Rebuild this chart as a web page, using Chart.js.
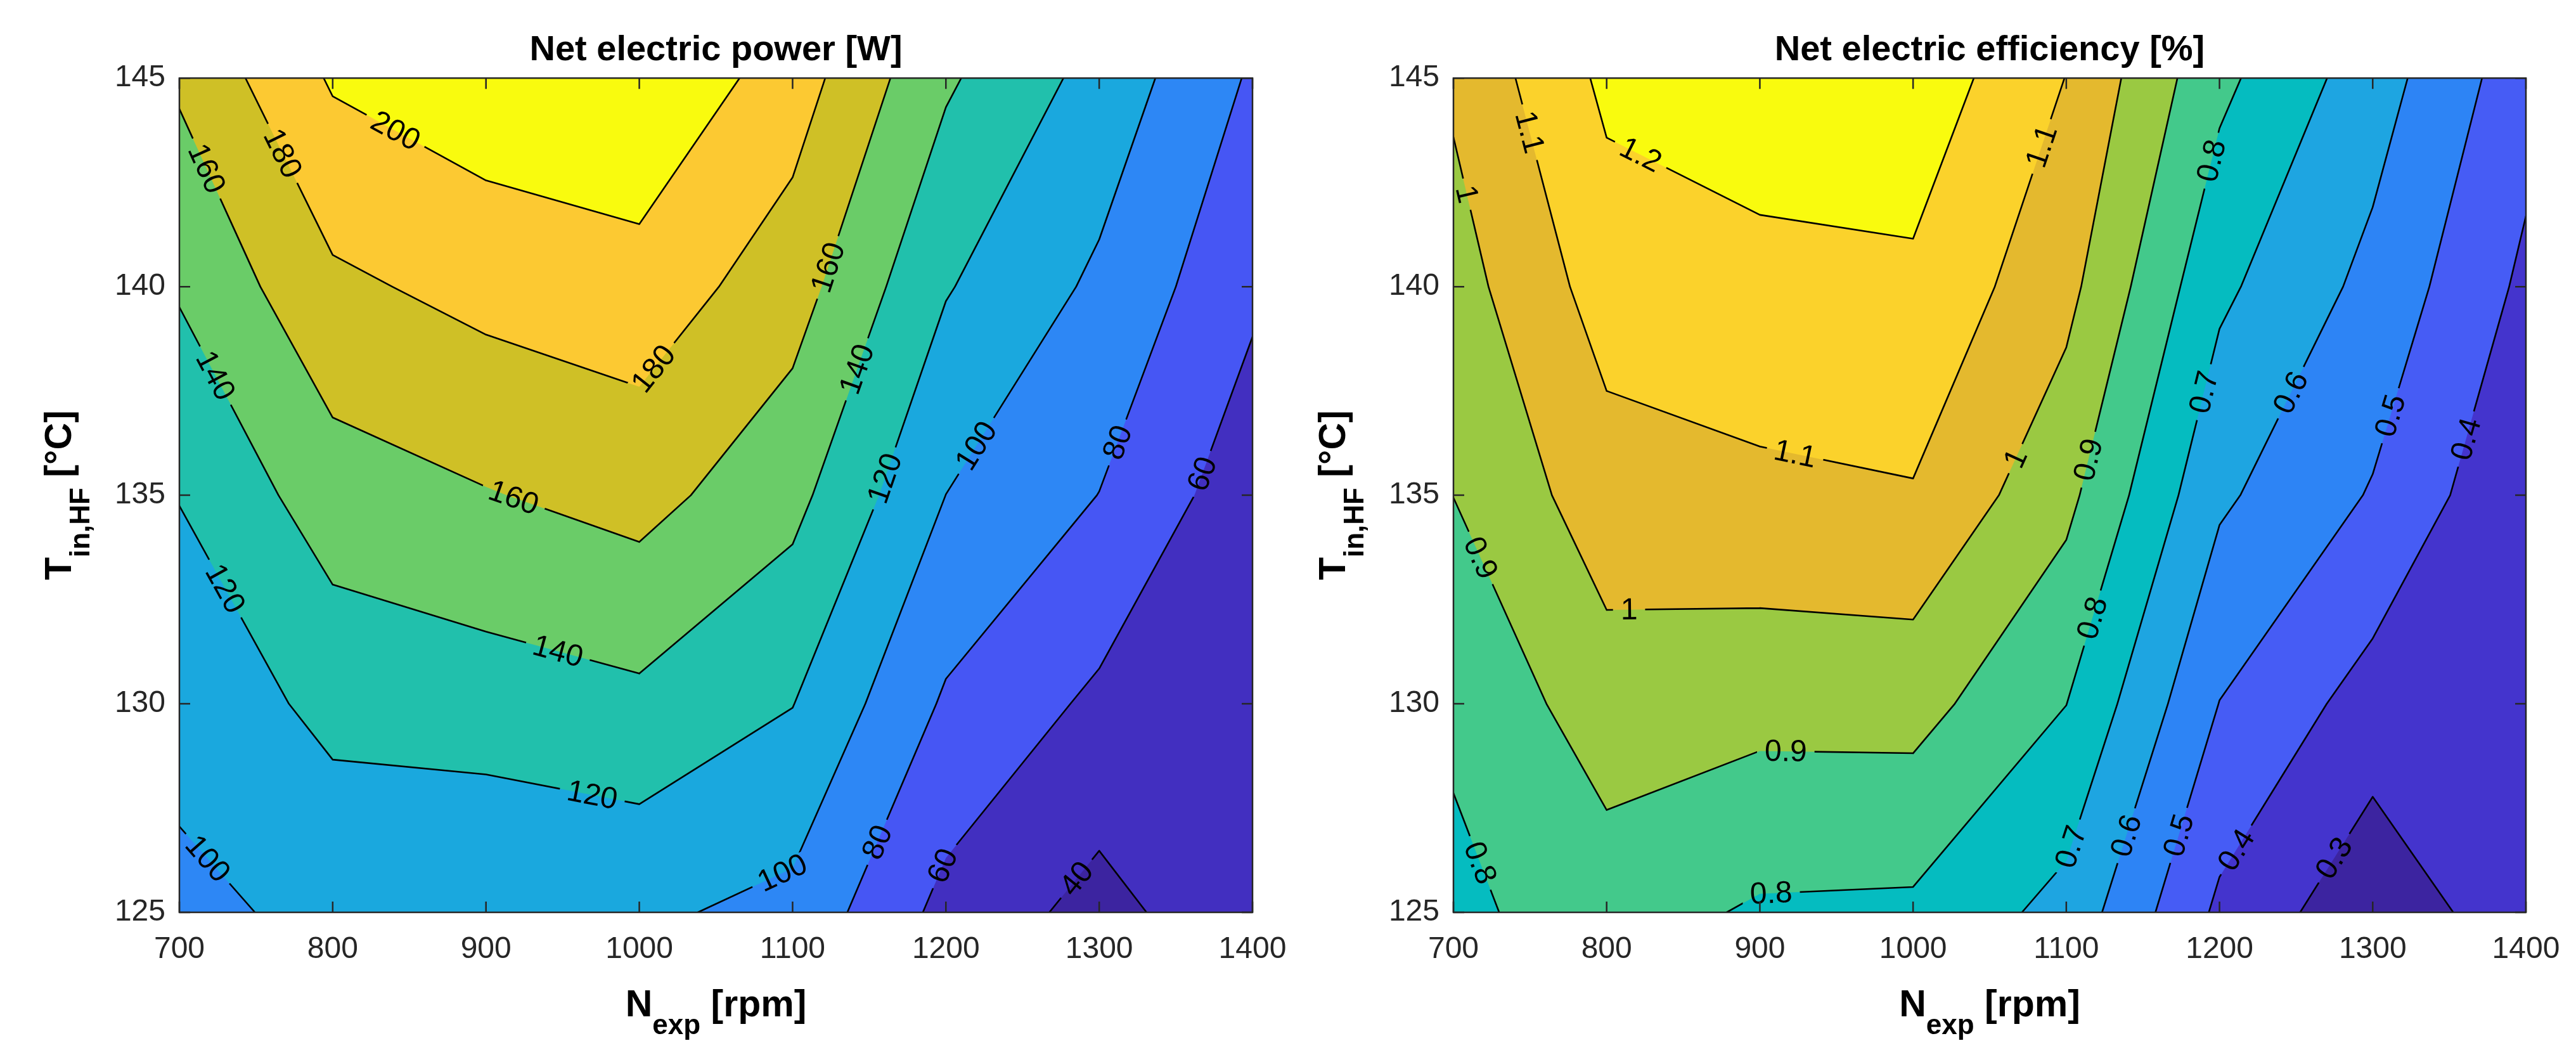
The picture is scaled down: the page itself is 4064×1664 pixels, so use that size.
<!DOCTYPE html>
<html>
<head>
<meta charset="utf-8">
<script src="https://cdn.jsdelivr.net/npm/chart.js@4.4.1/dist/chart.umd.min.js"></script>
<style>
	html, body { margin: 0; padding: 0; background: #fff; overflow: hidden; }
	#wrap { position: relative; width: 4064px; height: 1664px; }
	.pane { position: absolute; top: 0; width: 2032px; height: 1664px; }
</style>
</head>
<body>
<div id="wrap">
	<div class="pane" style="left:0"><canvas id="powerChart" width="2032" height="1664"></canvas></div>
	<div class="pane" style="left:2032px"><canvas id="effChart" width="2032" height="1664"></canvas></div>
</div>
<script>
const rpm = [700, 800, 900, 1000, 1100, 1200, 1300, 1400];
const tempIn = [125, 130, 135, 140, 145];

// net electric power [W], one row per T_in,HF
const power125 = [96.5, 103.6, 100.5, 103.4, 94.5, 53.9, 33.3, 55.0];
const power130 = [105.0, 126.0, 130.0, 135.4, 120.5, 77.3, 56.0, 50.0];
const power135 = [120.8, 150.5, 158.9, 167.1, 146.0, 99.9, 79.7, 48.0];
const power140 = [142.1, 176.0, 186.3, 191.9, 169.0, 121.5, 96.2, 63.8];
const power145 = [163.1, 202.3, 213.2, 218.9, 190.0, 143.0, 113.0, 77.5];

// net electric efficiency [%]
const eff125 = [0.780, 0.847, 0.787, 0.781, 0.667, 0.380, 0.228, 0.365];
const eff130 = [0.815, 0.955, 0.933, 0.937, 0.801, 0.498, 0.358, 0.330];
const eff135 = [0.901, 1.055, 1.079, 1.093, 0.927, 0.617, 0.492, 0.310];
const eff140 = [0.957, 1.145, 1.169, 1.180, 1.030, 0.721, 0.571, 0.379];
const eff145 = [1.017, 1.222, 1.259, 1.267, 1.098, 0.825, 0.647, 0.441];

const powerLevels = [40, 60, 80, 100, 120, 140, 160, 180, 200];
const effLevels = [0.3, 0.4, 0.5, 0.6, 0.7, 0.8, 0.9, 1, 1.1, 1.2];

const powerColors = ['#3c24a0', '#422fc0', '#4656f4', '#2d87f5', '#1aa8de', '#21c0ac', '#6acc68', '#cfc026', '#fcc932', '#f9fb0e'];
const effColors = ['#3c24a0', '#4434cd', '#465cf5', '#2d84f5', '#1ea5e1', '#05bcc0', '#43c98b', '#9ac942', '#e4b92e', '#fbd22b', '#f9fb0e'];

// where the contour labels sit: [rpm, T, level]
const powerLabels = [
	[840.9, 143.73, 200], [765.9, 143.17, 180], [717, 142.82, 160], [722, 137.84, 140],
	[1010.3, 138.0, 180], [916.3, 134.76, 160], [728.3, 132.73, 120], [946.4, 131.19, 140],
	[968.9, 127.73, 120], [722, 126.4, 100], [1123.9, 140.45, 160], [1142.7, 138.01, 140],
	[1160.2, 135.4, 120], [1217.8, 136.23, 100], [1311.6, 136.27, 80], [1368, 135.5, 60],
	[1093.9, 125.9, 100], [1155.2, 126.68, 80], [1200.3, 126.08, 60], [1285.4, 125.8, 40]
];
const effLabels = [
	[749.4, 143.7, 1.1], [710.2, 142.23, 1], [821.9, 143.14, 1.2], [922.8, 135.96, 1.1],
	[814.7, 132.06, 1], [719.7, 133.53, 0.9], [916.9, 128.85, 0.9], [715, 126.15, 0.8],
	[907.4, 125.42, 0.8], [1090.5, 143.28, 1.1], [1197, 143, 0.8], [1070.4, 135.82, 1],
	[1118, 135.82, 0.9], [1192, 137.45, 0.7], [1247.1, 137.45, 0.6], [1312, 136.9, 0.5],
	[1358.6, 136.37, 0.4], [1119.3, 132.03, 0.8], [1103, 126.57, 0.7], [1138, 126.85, 0.6],
	[1173, 126.85, 0.5], [1210.8, 126.5, 0.4], [1274.7, 126.3, 0.3]
];

const AXIS = '#262626';
const FONT = '"Liberation Sans", Arial, Helvetica, sans-serif';

const maps = {
	powerChart: { Z: [power125, power130, power135, power140, power145], levels: powerLevels, colors: powerColors, labels: powerLabels },
	effChart: { Z: [eff125, eff130, eff135, eff140, eff145], levels: effLevels, colors: effColors, labels: effLabels }
};

function cell(Z, i, j) {
	return [
		{ x: rpm[i], y: tempIn[j], z: Z[j][i] },
		{ x: rpm[i + 1], y: tempIn[j], z: Z[j][i + 1] },
		{ x: rpm[i + 1], y: tempIn[j + 1], z: Z[j + 1][i + 1] },
		{ x: rpm[i], y: tempIn[j + 1], z: Z[j + 1][i] }
	];
}

// keep the part of a cell where z >= level (values linear along edges)
function clipPoly(poly, level) {
	const out = [];
	for (let k = 0; k < poly.length; k++) {
		const a = poly[k], b = poly[(k + 1) % poly.length];
		const ina = a.z >= level, inb = b.z >= level;
		if (ina) out.push(a);
		if (ina !== inb) {
			const f = (level - a.z) / (b.z - a.z);
			out.push({ x: a.x + f * (b.x - a.x), y: a.y + f * (b.y - a.y), z: level });
		}
	}
	return out;
}

function contourSegments(Z, level) {
	const segs = [];
	for (let j = 0; j < tempIn.length - 1; j++) {
		for (let i = 0; i < rpm.length - 1; i++) {
			const c = cell(Z, i, j);
			const pts = [];
			for (let k = 0; k < 4; k++) {
				const a = c[k], b = c[(k + 1) % 4];
				if ((a.z >= level) !== (b.z >= level)) {
					const f = (level - a.z) / (b.z - a.z);
					pts.push({ x: a.x + f * (b.x - a.x), y: a.y + f * (b.y - a.y) });
				} else pts.push(null);
			}
			const hit = pts.filter(p => p);
			if (hit.length === 2) segs.push(hit);
			else if (hit.length === 4) {
				const mid = (c[0].z + c[1].z + c[2].z + c[3].z) / 4;
				if ((mid >= level) === (c[0].z >= level)) segs.push([pts[0], pts[1]], [pts[2], pts[3]]);
				else segs.push([pts[3], pts[0]], [pts[1], pts[2]]);
			}
		}
	}
	return segs;
}

function placeLabels(ctx, cfg, segsByLevel, sx, sy) {
	ctx.font = `48px ${FONT}`;
	return cfg.labels.map(([n, t, lev]) => {
		const k = cfg.levels.findIndex(l => Math.abs(l - lev) < 1e-9);
		const px = sx.getPixelForValue(n), py = sy.getPixelForValue(t);
		let best = null;
		segsByLevel[k].forEach(([a, b]) => {
			const ax = sx.getPixelForValue(a.x), ay = sy.getPixelForValue(a.y);
			const bx = sx.getPixelForValue(b.x), by = sy.getPixelForValue(b.y);
			const dx = bx - ax, dy = by - ay, len2 = dx * dx + dy * dy || 1;
			const f = Math.max(0, Math.min(1, ((px - ax) * dx + (py - ay) * dy) / len2));
			const qx = ax + f * dx, qy = ay + f * dy;
			const d = Math.hypot(px - qx, py - qy);
			if (!best || d < best.d) best = { d, x: qx, y: qy, angle: Math.atan2(dy, dx) };
		});
		let angle = best.angle;
		if (angle > Math.PI / 2) angle -= Math.PI;
		if (angle <= -Math.PI / 2) angle += Math.PI;
		const text = String(lev);
		return { x: best.x, y: best.y, angle, text, w: ctx.measureText(text).width };
	});
}

const contourPlugin = {
	id: 'contour',
	beforeDatasetsDraw(chart) {
		const cfg = maps[chart.canvas.id];
		const { ctx, chartArea: area } = chart;
		const sx = chart.scales.x, sy = chart.scales.y;
		ctx.save();
		ctx.beginPath();
		ctx.rect(area.left, area.top, area.width, area.height);
		ctx.clip();

		// filled bands, painted from the lowest level up
		ctx.fillStyle = cfg.colors[0];
		ctx.fillRect(area.left, area.top, area.width, area.height);
		cfg.levels.forEach((level, k) => {
			const path = new Path2D();
			for (let j = 0; j < tempIn.length - 1; j++) {
				for (let i = 0; i < rpm.length - 1; i++) {
					const poly = clipPoly(cell(cfg.Z, i, j), level);
					if (poly.length < 3) continue;
					poly.forEach((p, m) => {
						const x = sx.getPixelForValue(p.x), y = sy.getPixelForValue(p.y);
						m ? path.lineTo(x, y) : path.moveTo(x, y);
					});
					path.closePath();
				}
			}
			ctx.fillStyle = cfg.colors[k + 1];
			ctx.fill(path);
		});

		const segsByLevel = cfg.levels.map(l => contourSegments(cfg.Z, l));
		const placed = placeLabels(ctx, cfg, segsByLevel, sx, sy);

		// contour lines, broken where the labels sit
		ctx.save();
		ctx.beginPath();
		ctx.rect(area.left, area.top, area.width, area.height);
		placed.forEach(L => {
			const hw = L.w / 2 + 12, hh = 18;
			const c = Math.cos(L.angle), s = Math.sin(L.angle);
			[[-hw, -hh], [hw, -hh], [hw, hh], [-hw, hh]].forEach(([u, v], m) => {
				const x = L.x + u * c - v * s, y = L.y + u * s + v * c;
				m ? ctx.lineTo(x, y) : ctx.moveTo(x, y);
			});
			ctx.closePath();
		});
		ctx.clip('evenodd');
		ctx.strokeStyle = '#000';
		ctx.lineWidth = 2.6;
		ctx.lineCap = 'round';
		ctx.lineJoin = 'round';
		ctx.beginPath();
		segsByLevel.forEach(segs => segs.forEach(([a, b]) => {
			ctx.moveTo(sx.getPixelForValue(a.x), sy.getPixelForValue(a.y));
			ctx.lineTo(sx.getPixelForValue(b.x), sy.getPixelForValue(b.y));
		}));
		ctx.stroke();
		ctx.restore();

		ctx.fillStyle = '#000';
		ctx.font = `48px ${FONT}`;
		ctx.textAlign = 'center';
		ctx.textBaseline = 'middle';
		placed.forEach(L => {
			ctx.save();
			ctx.translate(L.x, L.y);
			ctx.rotate(L.angle);
			ctx.fillText(L.text, 0, 2);
			ctx.restore();
		});
		ctx.restore();
	}
};

function richText(ctx, parts, x, y, subShift) {
	let total = 0;
	parts.forEach(p => { ctx.font = `bold ${p.size}px ${FONT}`; p.w = ctx.measureText(p.text).width; total += p.w; });
	let cx = x - total / 2;
	ctx.textAlign = 'left';
	ctx.textBaseline = 'alphabetic';
	parts.forEach(p => {
		ctx.font = `bold ${p.size}px ${FONT}`;
		ctx.fillText(p.text, cx, y + (p.sub ? subShift : 0));
		cx += p.w;
	});
}

const framePlugin = {
	id: 'frame',
	afterDraw(chart) {
		const { ctx, chartArea: a } = chart;
		const sx = chart.scales.x, sy = chart.scales.y;
		const tl = 17;
		ctx.save();
		ctx.strokeStyle = AXIS;
		ctx.lineWidth = 2.5;
		ctx.beginPath();
		sx.ticks.forEach(t => {
			const x = sx.getPixelForValue(t.value);
			ctx.moveTo(x, a.bottom); ctx.lineTo(x, a.bottom - tl);
			ctx.moveTo(x, a.top); ctx.lineTo(x, a.top + tl);
		});
		sy.ticks.forEach(t => {
			const y = sy.getPixelForValue(t.value);
			ctx.moveTo(a.left, y); ctx.lineTo(a.left + tl, y);
			ctx.moveTo(a.right, y); ctx.lineTo(a.right - tl, y);
		});
		ctx.stroke();
		ctx.strokeRect(a.left, a.top, a.width, a.height);

		ctx.fillStyle = '#000';
		richText(ctx, [{ text: 'N', size: 59 }, { text: 'exp', size: 44, sub: true }, { text: ' [rpm]', size: 59 }],
			(a.left + a.right) / 2, 1603, 28);
		ctx.translate(a.left - 171, (a.top + a.bottom) / 2);
		ctx.rotate(-Math.PI / 2);
		richText(ctx, [{ text: 'T', size: 59 }, { text: 'in,HF', size: 44, sub: true }, { text: ' [°C]', size: 59 }],
			0, 0, 29);
		ctx.restore();
	}
};

Chart.defaults.font.family = FONT;

function makeChart(id, title, yWidth, rightPad) {
	return new Chart(document.getElementById(id), {
		type: 'scatter',
		data: { datasets: [{ data: [], pointRadius: 0 }] },
		options: {
			responsive: false,
			devicePixelRatio: 1,
			animation: false,
			events: [],
			layout: { padding: { top: 0, right: rightPad, bottom: 0, left: 0 } },
			plugins: {
				legend: { display: false },
				tooltip: { enabled: false },
				title: {
					display: true, text: title, fullSize: false, color: '#000',
					font: { size: 56, weight: 'bold' }, padding: { top: 46, bottom: 10 }
				}
			},
			scales: {
				x: {
					type: 'linear', min: 700, max: 1400,
					grid: { display: false, drawTicks: false }, border: { display: false },
					ticks: { stepSize: 100, color: AXIS, font: { size: 48 }, padding: 30, maxRotation: 0, autoSkip: false, callback: v => String(v) },
					afterFit: s => { s.height = 225; s.paddingLeft = 0; s.paddingRight = 0; }
				},
				y: {
					type: 'linear', min: 125, max: 145,
					grid: { display: false, drawTicks: false }, border: { display: false },
					ticks: { stepSize: 5, color: AXIS, font: { size: 48 }, padding: 22, callback: v => String(v) },
					afterFit: s => { s.width = yWidth; s.paddingTop = 0; s.paddingBottom = 0; }
				}
			}
		},
		plugins: [contourPlugin, framePlugin]
	});
}

makeChart('powerChart', 'Net electric power [W]', 283, 56);
makeChart('effChart', 'Net electric efficiency [%]', 261, 79);
</script>
</body>
</html>
